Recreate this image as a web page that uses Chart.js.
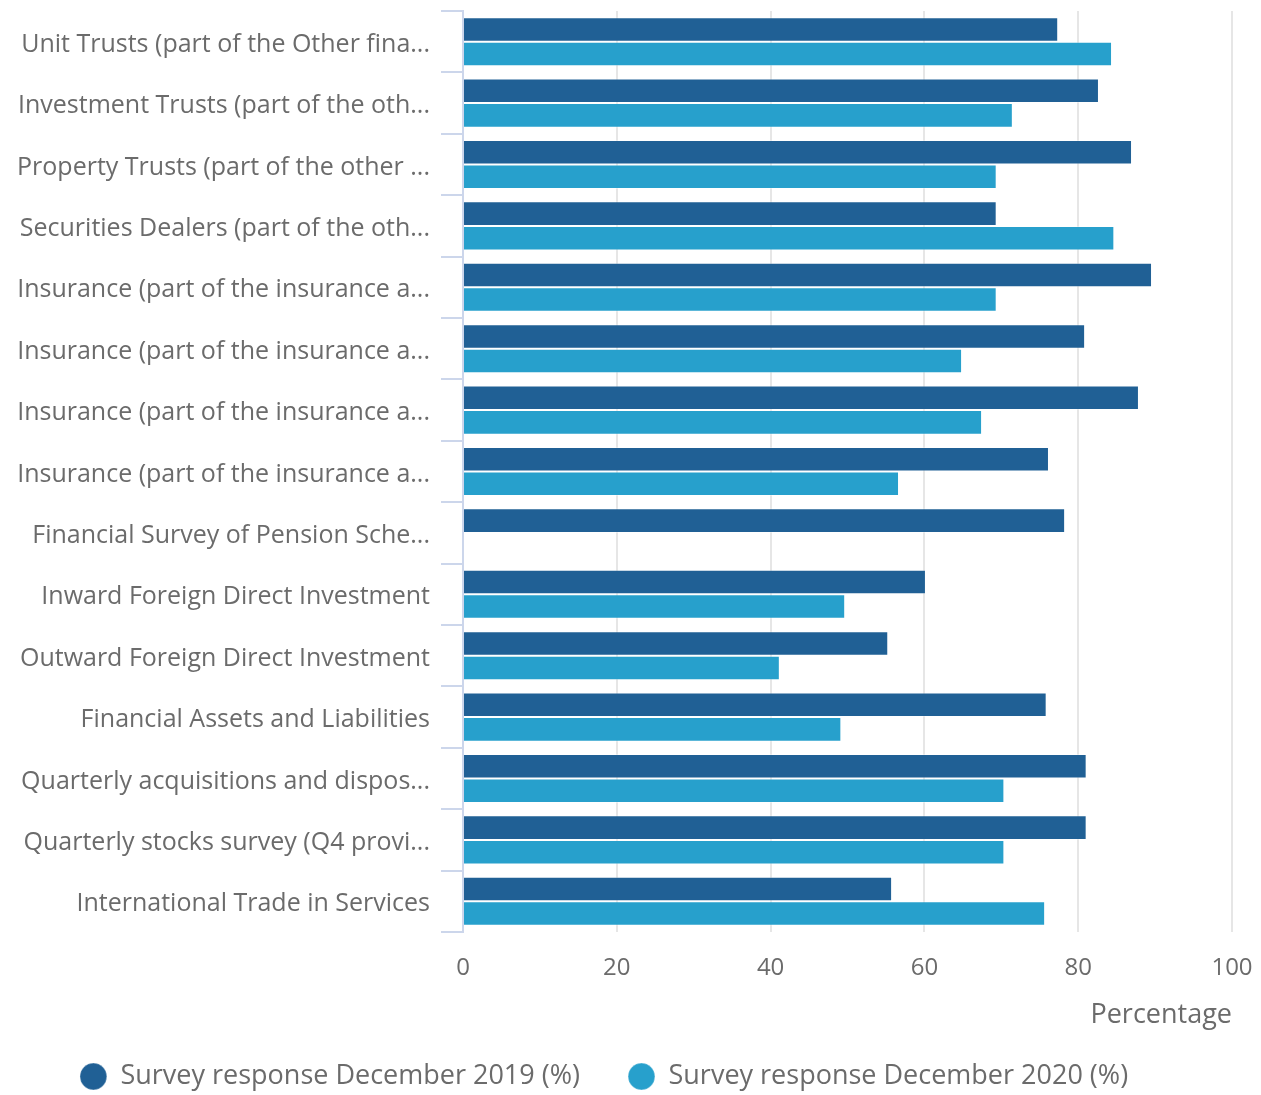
<!DOCTYPE html>
<html>
<head>
<meta charset="utf-8">
<script src="https://cdn.jsdelivr.net/npm/chart.js@4/dist/chart.umd.min.js"></script>
<style>
  html, body { margin: 0; padding: 0; background: #ffffff; }
  #wrap { width: 1261px; height: 1095px; position: relative; }
</style>
</head>
<body>
<div id="wrap"><canvas id="c" width="1261" height="1095"></canvas></div>
<script>
const categories = [
  "Unit Trusts (part of the Other fina...",
  "Investment Trusts (part of the oth...",
  "Property Trusts (part of the other ...",
  "Securities Dealers (part of the oth...",
  "Insurance (part of the insurance a...",
  "Insurance (part of the insurance a...",
  "Insurance (part of the insurance a...",
  "Insurance (part of the insurance a...",
  "Financial Survey of Pension Sche...",
  "Inward Foreign Direct Investment",
  "Outward Foreign Direct Investment",
  "Financial Assets and Liabilities",
  "Quarterly acquisitions and dispos...",
  "Quarterly stocks survey (Q4 provi...",
  "International Trade in Services"
];
const response2019 = [77.4, 82.7, 87.0, 69.4, 89.6, 80.9, 87.9, 76.2, 78.3, 60.2, 55.3, 75.9, 81.1, 81.1, 55.8];
const response2020 = [84.4, 71.5, 69.4, 84.7, 69.4, 64.9, 67.5, 56.7, null, 49.7, 41.2, 49.2, 70.4, 70.4, 75.7];
const seriesNames = ["Survey response December 2019 (%)", "Survey response December 2020 (%)"];
const xTicks = [0, 20, 40, 60, 80, 100];
const axisTitle = "Percentage";

const FONT = "'Open Sans', 'Noto Sans', sans-serif";
const TXT = "#6b6b6b";

const legendShift = {
  id: 'legendShift',
  afterLayout(chart) {
    if (chart.legend) { chart.legend.left -= 12; chart.legend.right -= 12; }
  }
};

new Chart(document.getElementById('c'), {
  type: 'bar',
  data: {
    labels: categories,
    datasets: [
      { label: seriesNames[0], data: response2019, backgroundColor: '#206095', borderColor: 'rgba(255,255,255,0.35)', borderWidth: 1 },
      { label: seriesNames[1], data: response2020, backgroundColor: '#27a0cc', borderColor: 'rgba(255,255,255,0.35)', borderWidth: 1 }
    ]
  },
  plugins: [legendShift],
  options: {
    indexAxis: 'y',
    responsive: false,
    animation: false,
    devicePixelRatio: 1,
    layout: { padding: { top: 11, right: 29, left: 0, bottom: -5 } },
    datasets: { bar: { categoryPercentage: 0.8, barPercentage: 1.0 } },
    scales: {
      y: {
        type: 'category',
        offset: true,
        afterFit: (s) => { s.width = 463; s.paddingTop = 0; s.paddingBottom = 0; },
        grid: { display: true, drawOnChartArea: false, offset: true, tickLength: 22, color: '#ccd6eb', lineWidth: 2 },
        border: { display: true, color: '#ccd6eb', width: 2 },
        ticks: { font: { family: FONT, size: 25 }, color: TXT, padding: 11, autoSkip: false, labelOffset: 3 }
      },
      x: {
        min: 0, max: 100,
        afterBuildTicks: (s) => { s.ticks = xTicks.map(v => ({ value: v })); },
        afterFit: (s) => { s.height = 83; s.paddingLeft = 0; s.paddingRight = 0; },
        grid: { color: '#e6e6e6', lineWidth: 2, drawTicks: false },
        border: { display: false },
        ticks: { font: { family: FONT, size: 24 }, color: TXT, padding: 22 },
        title: { display: true, text: axisTitle, align: 'end', font: { family: FONT, size: 27 }, color: TXT, padding: { top: 0, bottom: -17 } }
      }
    },
    plugins: {
      tooltip: { enabled: false },
      legend: {
        position: 'bottom',
        labels: {
          usePointStyle: true,
          pointStyle: 'circle',
          boxHeight: 19,
          boxWidth: 27,
          padding: 48,
          color: TXT,
          font: { family: FONT, size: 27 }
        }
      }
    }
  }
});
</script>
</body>
</html>
